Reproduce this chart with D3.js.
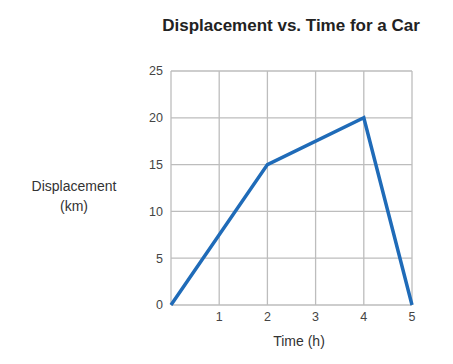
<!doctype html>
<html lang="en">
<head>
    <meta charset="utf-8">
    <title>Displacement vs. Time</title>
    <style>
        body {
            margin: 0px;
            background: #fff;
            font-family: "Liberation Sans", Arial, sans-serif;
        }

        .grid line {
            stroke: #bdbdbd;
            stroke-width: 1.3;
        }

        .tick-label {
            fill: #444;
            font-size: 12.5px;
        }

        .axis-title {
            fill: #333;
            font-size: 14px;
            text-anchor: middle;
        }
    </style>
</head>
<body>
<script src="https://d3js.org/d3.v7.min.js"></script>
<script>
    const timeHours = [0, 2, 4, 5];
    const displacementKm = [0, 15, 20, 0];
    const xTicks = [1, 2, 3, 4, 5];
    const yTicks = [0, 5, 10, 15, 20, 25];

    const width = 453, height = 364;
    const plot = { left: 171, right: 412, top: 71, bottom: 305 };

    const svg = d3.select('body').append('svg')
        .attr('width', width)
        .attr('height', height);

    const x = d3.scaleLinear().domain([0, 5]).range([plot.left, plot.right]);
    const y = d3.scaleLinear().domain([0, 25]).range([plot.bottom, plot.top]);

    // grid
    let grid = svg.append('g').attr('class', 'grid');

    grid.selectAll('line.h')
        .data(yTicks)
        .enter().append('line')
        .attr('class', 'h')
        .attr('x1', plot.left)
        .attr('x2', plot.right)
        .attr('y1', d => y(d))
        .attr('y2', d => y(d));

    grid.selectAll('line.v')
        .data([0].concat(xTicks))
        .enter().append('line')
        .attr('class', 'v')
        .attr('x1', d => x(d))
        .attr('x2', d => x(d))
        .attr('y1', plot.top)
        .attr('y2', plot.bottom);

    // tick labels
    svg.selectAll('text.ylab')
        .data(yTicks)
        .enter().append('text')
        .attr('class', 'tick-label')
        .attr('x', plot.left - 8)
        .attr('y', d => y(d))
        .attr('dy', '0.35em')
        .attr('text-anchor', 'end')
        .text(d => d);

    svg.selectAll('text.xlab')
        .data(xTicks)
        .enter().append('text')
        .attr('class', 'tick-label')
        .attr('x', d => x(d))
        .attr('y', plot.bottom + 16)
        .attr('text-anchor', 'middle')
        .text(d => d);

    // data line
    const points = timeHours.map((t, i) => [t, displacementKm[i]]);
    svg.append('path')
        .datum(points)
        .attr('fill', 'none')
        .attr('stroke', '#1f6bb8')
        .attr('stroke-width', 3.5)
        .attr('stroke-linejoin', 'miter')
        .attr('d', d3.line().x(d => x(d[0])).y(d => y(d[1])));

    // titles
    svg.append('text')
        .attr('x', 291)
        .attr('y', 31)
        .attr('text-anchor', 'middle')
        .attr('font-weight', 'bold')
        .attr('font-size', '17px')
        .attr('fill', '#222')
        .text('Displacement vs. Time for a Car');

    svg.append('text')
        .attr('class', 'axis-title')
        .attr('x', 74)
        .attr('y', 191)
        .text('Displacement');

    svg.append('text')
        .attr('class', 'axis-title')
        .attr('x', 74)
        .attr('y', 211)
        .text('(km)');

    svg.append('text')
        .attr('class', 'axis-title')
        .attr('x', 299)
        .attr('y', 346)
        .text('Time (h)');
</script>
</body>
</html>
